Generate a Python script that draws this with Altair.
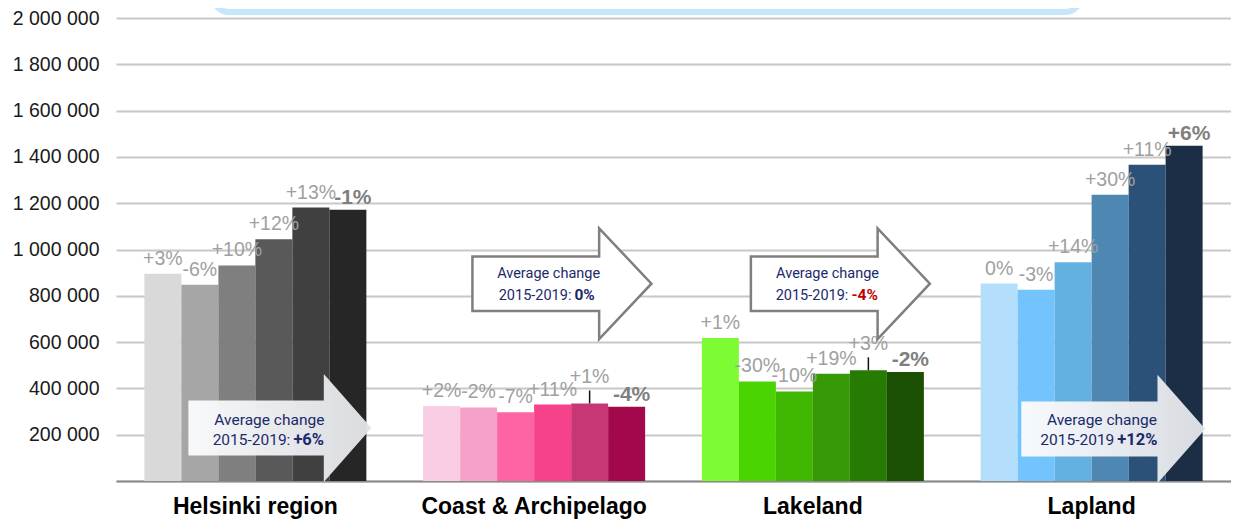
import altair as alt
import pandas as pd

# ---------------- data ----------------
regions = ["Helsinki region", "Coast & Archipelago", "Lakeland", "Lapland"]
years = [2014, 2015, 2016, 2017, 2018, 2019]
helsinki = [895000, 848000, 931000, 1044000, 1181000, 1172000]
coast = [324000, 318000, 297000, 330000, 335000, 321000]
lakeland = [618000, 430000, 387000, 463000, 478000, 471000]
lapland = [853000, 826000, 945000, 1236000, 1366000, 1448000]
helsinki_pct = ["+3%", "-6%", "+10%", "+12%", "+13%", "-1%"]
coast_pct = ["+2%", "-2%", "-7%", "+11%", "+1%", "-4%"]
lakeland_pct = ["+1%", "-30%", "-10%", "+19%", "+3%", "-2%"]
lapland_pct = ["0%", "-3%", "+14%", "+30%", "+11%", "+6%"]
avg_line1 = ["Average change"] * 4
avg_period = ["2015-2019:", "2015-2019:", "2015-2019:", "2015-2019"]
avg_change = ["+6%", "0%", "-4%", "+12%"]
y_ticks = [0, 200000, 400000, 600000, 800000, 1000000,
           1200000, 1400000, 1600000, 1800000, 2000000]

# ---------------- styles ----------------
palettes = {
    "Helsinki region": ["#d9d9d9", "#a6a6a6", "#7f7f7f", "#595959", "#404040", "#262626"],
    "Coast & Archipelago": ["#f9cde3", "#f5a2c9", "#fc64a4", "#f6418b", "#c83775", "#a3084c"],
    "Lakeland": ["#7dfb33", "#4ad401", "#40b701", "#379908", "#277b03", "#1b4f04"],
    "Lapland": ["#b3dffd", "#73c4fd", "#63b0e1", "#4e87b2", "#2c5179", "#1b2e46"],
}
leader_labels = {("Coast & Archipelago", 2018), ("Lakeland", 2018)}
FONT = "Liberation Sans"
AFONT = "Roboto"
NAVY = "#1b2a6b"

series = [helsinki, coast, lakeland, lapland]
pcts = [helsinki_pct, coast_pct, lakeland_pct, lapland_pct]
rows = []
for r, vals, ps in zip(regions, series, pcts):
    for y, v, p in zip(years, vals, ps):
        rows.append({"region": r, "year": y, "value": v, "pct": p,
                     "key": f"{r} {y}", "lead": (r, y) in leader_labels})
df = pd.DataFrame(rows)

keys = [f"{r} {y}" for r in regions for y in years]
colors = [c for r in regions for c in palettes[r]]

PLOT_W, PLOT_H = 1115, 463

x_enc = alt.X(
    "region:N",
    scale=alt.Scale(domain=regions, paddingInner=0.2036, paddingOuter=0.1018),
    axis=alt.Axis(title=None, labelAngle=0, labelFont=FONT, labelFontSize=23,
                  labelFontWeight="bold", labelColor="#000000", labelPadding=32,
                  labelBaseline="alphabetic", labelLimit=0, ticks=False, tickSize=0,
                  domainColor="#8c8c8c", domainWidth=2, grid=False),
)
xo_enc = alt.XOffset("year:O", scale=alt.Scale(paddingInner=0, paddingOuter=0))
y_enc = alt.Y(
    "value:Q",
    scale=alt.Scale(domain=[0, 2000000], nice=False),
    axis=alt.Axis(title=None, values=y_ticks, domain=False, ticks=False, tickSize=0,
                  labelPadding=17, labelFont=FONT, labelFontSize=19.5,
                  labelColor="#1a1a1a", gridColor="#c8c8c8", gridWidth=1.8,
                  labelExpr="datum.value == 0 ? '' : replace(format(datum.value, ','), regexp(',', 'g'), ' ')"),
)

base = alt.Chart(df)

bars = base.mark_bar().encode(
    x=x_enc, xOffset=xo_enc, y=y_enc,
    color=alt.Color("key:N", scale=alt.Scale(domain=keys, range=colors), legend=None),
)

lab_norm = base.transform_filter("datum.year != 2019 && !datum.lead").mark_text(
    dy=-9, baseline="alphabetic", font=FONT, fontSize=19.5, color="#a0a0a0"
).encode(x=x_enc, xOffset=xo_enc, y=y_enc, text="pct:N")

lab_lead = base.transform_filter("datum.lead").mark_text(
    dy=-20, baseline="alphabetic", font=FONT, fontSize=19.5, color="#a0a0a0"
).encode(x=x_enc, xOffset=xo_enc, y=y_enc, text="pct:N")

leaders = base.transform_filter("datum.lead").mark_rule(
    color="#111111", strokeWidth=1.5, y2Offset=-13
).encode(x=x_enc, xOffset=xo_enc, y=y_enc, y2=alt.Y2("value:Q"))

lab_bold = base.transform_filter("datum.year == 2019").mark_text(
    dx=5, dy=-6, baseline="alphabetic", font=FONT, fontSize=21, fontWeight="bold", color="#7f7f7f"
).encode(x=x_enc, xOffset=xo_enc, y=y_enc, text="pct:N")

# title box (cut off at top like the reference)
box = alt.Chart(pd.DataFrame({"a": [0]})).mark_rect(
    cornerRadius=16, fill="white", stroke="#c6e6fb", strokeWidth=6
).encode(x=alt.value(97), x2=alt.value(965), y=alt.value(-60), y2=alt.value(-6))

# arrows
SOLID = "M -1 -0.3 L 0.48 -0.3 L 0.48 -0.59 L 1 0 L 0.48 0.59 L 0.48 0.3 L -1 0.3 Z"
OUTLINE = "M -1 -0.305 L 0.416 -0.305 L 0.416 -0.618 L 1 0 L 0.416 0.618 L 0.416 0.305 L -1 0.305 Z"
grad = alt.LinearGradient(gradient="linear", x1=0, x2=1, y1=0, y2=0,
                          stops=[alt.GradientStop(offset=0, color="#fbfcfd"),
                                 alt.GradientStop(offset=1, color="#e1e3e7")])

arrow_style = [
    dict(adx=24.5, ay=410, kind="solid", size=183, l1=14, y1=407, y2=427, split=36.5, fs=15.5, bc=NAVY),
    dict(adx=27.8, ay=265.7, kind="outline", size=179, l1=14.5, y1=260.3, y2=282, split=38.8, fs=14.5, bc=NAVY),
    dict(adx=27.5, ay=265.7, kind="outline", size=179, l1=14.7, y1=260.3, y2=282, split=37, fs=14.5, bc="#c00000"),
    dict(adx=21.7, ay=411, kind="solid", size=184, l1=10.3, y1=407, y2=427, split=24.2, fs=15.5, bc=NAVY),
]

arrow_layers = []
for i, st in enumerate(arrow_style):
    d = pd.DataFrame({"region": [regions[i]], "t1": [avg_line1[i]],
                      "t2": [avg_period[i]], "t3": [avg_change[i]]})
    c = alt.Chart(d)
    if st["kind"] == "solid":
        shp = c.mark_point(shape=SOLID, filled=True, fill=grad, opacity=0.96,
                           strokeWidth=0, size=st["size"] ** 2, xOffset=st["adx"])
    else:
        shp = c.mark_point(shape=OUTLINE, filled=True, fill="white", stroke="#7f7f7f",
                           strokeWidth=2.5, opacity=1, size=st["size"] ** 2, xOffset=st["adx"])
    shp = shp.encode(x=x_enc, y=alt.value(st["ay"]))
    t1 = c.mark_text(dx=st["l1"], align="center", baseline="alphabetic", font=AFONT,
                     fontSize=st["fs"], color=NAVY).encode(x=x_enc, y=alt.value(st["y1"]), text="t1:N")
    t2 = c.mark_text(dx=st["split"] - 1.5, align="right", baseline="alphabetic", font=AFONT,
                     fontSize=st["fs"], color=NAVY).encode(x=x_enc, y=alt.value(st["y2"]), text="t2:N")
    t3 = c.mark_text(dx=st["split"] + 1.5, align="left", baseline="alphabetic", font=AFONT,
                     fontSize=st["fs"] + 1, fontWeight="bold", color=st["bc"]).encode(
        x=x_enc, y=alt.value(st["y2"]), text="t3:N")
    arrow_layers += [shp, t1, t2, t3]

chart = alt.layer(box, bars, leaders, lab_norm, lab_lead, lab_bold, *arrow_layers).properties(
    width=PLOT_W, height=PLOT_H,
    padding={"left": 108, "top": 10, "right": 0, "bottom": 39},
    autosize=alt.AutoSizeParams(type="none"),
    background="white",
).configure_view(stroke=None)

chart.save("out.html", embed_options={"renderer": "svg", "actions": False})
